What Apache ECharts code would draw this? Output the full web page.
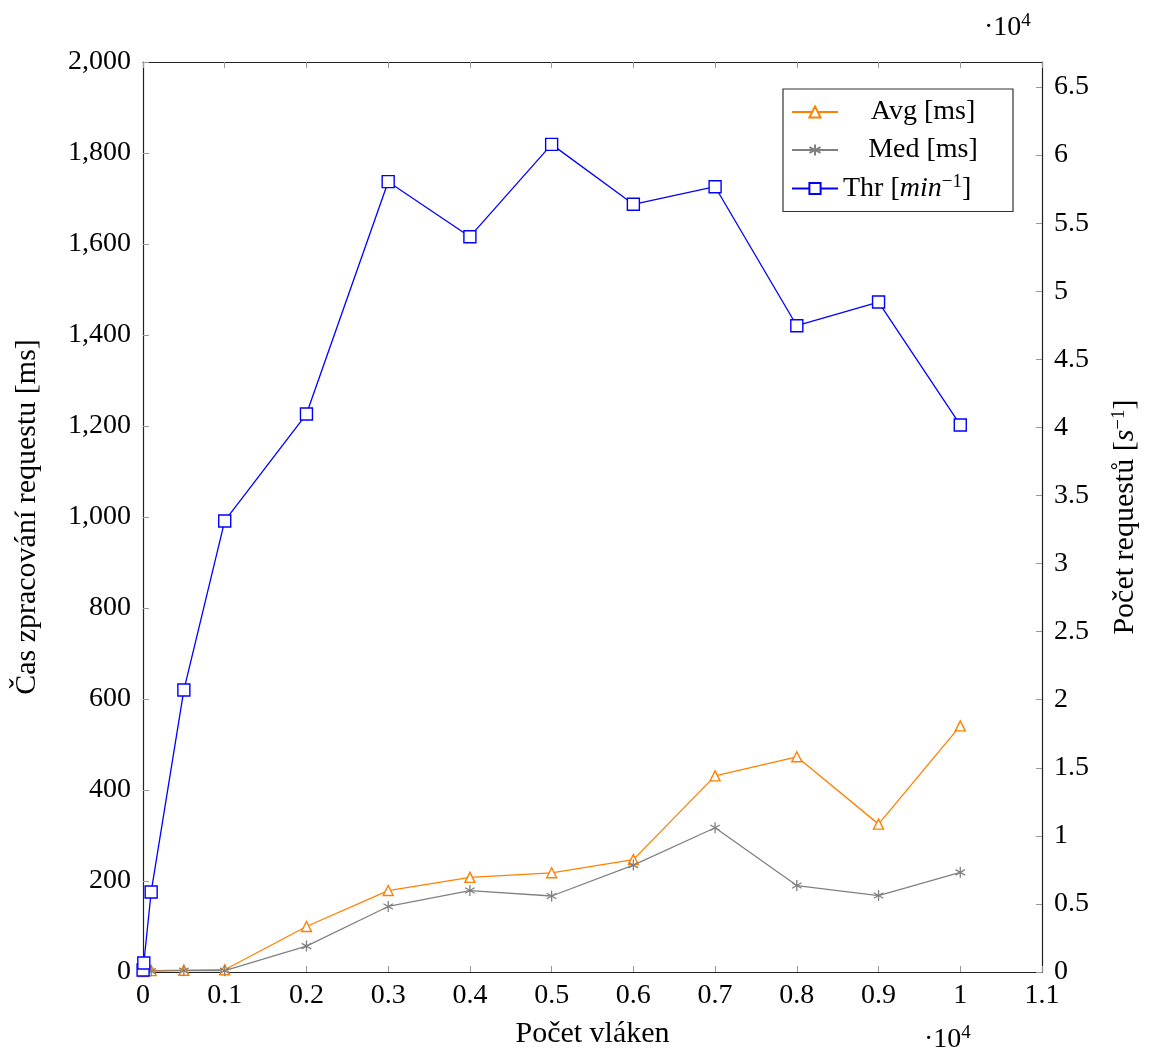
<!DOCTYPE html>
<html>
<head>
<meta charset="utf-8">
<script src="https://cdn.jsdelivr.net/npm/echarts@6/dist/echarts.min.js"></script>
<style>
  html, body { margin: 0; padding: 0; background: #fff; }
  #chart { width: 1151px; height: 1054px; }
</style>
</head>
<body>
<div id="chart"></div>
<script>
// počet vláken (x)
const threads = [1, 10, 100, 500, 1000, 2000, 3000, 4000, 5000, 6000, 7000, 8000, 9000, 10000]
// doba zpracování [ms] (levá osa)
const avgMs = [1, 2, 3, 4, 5, 100, 179, 208, 218, 247, 431, 473, 325, 541]
const medMs = [1, 1, 2, 3, 3, 57, 144, 179, 167, 235, 317, 190, 168, 219]
// propustnost (pravá osa)
const thr = [150, 660, 5880, 20710, 33130, 40980, 58050, 54010, 60790, 56390, 57680, 47470, 49210, 40180]

const seriesNames = ['Avg [ms]', 'Med [ms]', 'Thr [min^-1]']

const font = 'Liberation Serif'
const fs = 28
const nameFs = 30
const rich = {
  i: { fontFamily: font, fontSize: fs, fontStyle: 'italic', color: '#000' },
  in: { fontFamily: font, fontSize: nameFs, fontStyle: 'italic', color: '#000' },
  sup: { fontFamily: font, fontSize: 19, color: '#000', padding: [0, 0, 12, 0] },
  c: { fontFamily: font, fontSize: fs, color: '#000', width: 160, align: 'center' }
}

const pair = (xs, ys) => xs.map((x, i) => [x, ys[i]])

const chart = echarts.init(document.getElementById('chart'))

const tickStyle = { show: true, inside: true, length: 6, lineStyle: { color: '#999', width: 1 } }
const lineAxis = { show: true, onZero: false, lineStyle: { color: '#222', width: 1.2 } }

const options = {
  animation: false,
  backgroundColor: '#fff',
  textStyle: { fontFamily: font },
  grid: { left: 143, right: 109, top: 62, bottom: 82, outerBoundsMode: 'none', containLabel: false },
  legend: {
    left: 783,
    top: 89,
    orient: 'vertical',
    backgroundColor: '#fff',
    borderColor: '#333',
    borderWidth: 1.2,
    borderRadius: 0,
    padding: [8, 10, 8, 8],
    itemGap: 8,
    itemWidth: 46,
    itemHeight: 14,
    data: seriesNames,
    formatter: (name) => {
      if (name === 'Thr [min^-1]') return 'Thr [{i|min}{sup|−1}]'
      return '{c|' + name + '}'
    },
    textStyle: { fontFamily: font, fontSize: fs, color: '#000', lineHeight: 30, rich: rich }
  },
  xAxis: [
    {
      type: 'value',
      min: 0,
      max: 11000,
      interval: 1000,
      name: 'Počet vláken',
      nameLocation: 'middle',
      nameGap: 47,
      nameTextStyle: { fontFamily: font, fontSize: nameFs, color: '#000' },
      axisLine: lineAxis,
      axisTick: tickStyle,
      splitLine: { show: false },
      axisLabel: {
        fontFamily: font,
        fontSize: fs,
        color: '#000',
        margin: 10,
        formatter: (v) => String(+(v / 10000).toFixed(1))
      }
    },
    {
      type: 'value',
      position: 'top',
      min: 0,
      max: 11000,
      interval: 1000,
      axisLine: lineAxis,
      axisTick: tickStyle,
      axisLabel: { show: false },
      splitLine: { show: false }
    }
  ],
  yAxis: [
    {
      type: 'value',
      min: 0,
      max: 2000,
      interval: 200,
      name: 'Čas zpracování requestu [ms]',
      nameLocation: 'middle',
      nameGap: 101,
      nameRotate: 90,
      nameTextStyle: { fontFamily: font, fontSize: nameFs, color: '#000' },
      axisLine: lineAxis,
      axisTick: tickStyle,
      splitLine: { show: false },
      axisLabel: {
        fontFamily: font,
        fontSize: fs,
        color: '#000',
        margin: 12,
        formatter: (v) => v.toLocaleString('en-US')
      }
    },
    {
      type: 'value',
      position: 'right',
      min: 0,
      max: 66840,
      interval: 5000,
      name: 'Počet requestů [{in|s}{sup|−1}]',
      nameLocation: 'middle',
      nameGap: 68,
      nameRotate: 90,
      nameTextStyle: { fontFamily: font, fontSize: nameFs, color: '#000', rich: rich },
      axisLine: lineAxis,
      axisTick: tickStyle,
      splitLine: { show: false },
      axisLabel: {
        fontFamily: font,
        fontSize: fs,
        color: '#000',
        margin: 12,
        showMaxLabel: false,
        formatter: (v) => (v % 5000 === 0 ? String(v / 10000) : '')
      }
    }
  ],
  graphic: [
    {
      type: 'text',
      left: 984,
      top: 12,
      style: { text: '·10{sup|4}', fontFamily: font, fontSize: fs, fill: '#000', rich: rich }
    },
    {
      type: 'text',
      left: 924,
      top: 1024,
      style: { text: '·10{sup|4}', fontFamily: font, fontSize: fs, fill: '#000', rich: rich }
    }
  ],
  series: [
    {
      name: seriesNames[0],
      type: 'line',
      xAxisIndex: 0,
      yAxisIndex: 0,
      data: pair(threads, avgMs),
      clip: false,
      symbol: 'triangle',
      symbolSize: 10,
      lineStyle: { color: '#ff8000', width: 1.3 },
      itemStyle: { color: '#fff', borderColor: '#ff8000', borderWidth: 1.4 }
    },
    {
      name: seriesNames[1],
      type: 'line',
      xAxisIndex: 0,
      yAxisIndex: 0,
      data: pair(threads, medMs),
      clip: false,
      symbol: 'path://M5 0 L5 10 M0.67 2.5 L9.33 7.5 M0.67 7.5 L9.33 2.5',
      symbolSize: 11,
      symbolKeepAspect: true,
      lineStyle: { color: '#808080', width: 1.3 },
      itemStyle: { color: 'none', borderColor: '#808080', borderWidth: 1.3 }
    },
    {
      name: seriesNames[2],
      type: 'line',
      xAxisIndex: 0,
      yAxisIndex: 1,
      data: pair(threads, thr),
      clip: false,
      symbol: 'rect',
      symbolSize: 12,
      lineStyle: { color: '#0000ff', width: 1.3 },
      itemStyle: { color: '#fff', borderColor: '#0000ff', borderWidth: 1.4 }
    }
  ]
}

chart.setOption(options)
</script>
</body>
</html>
